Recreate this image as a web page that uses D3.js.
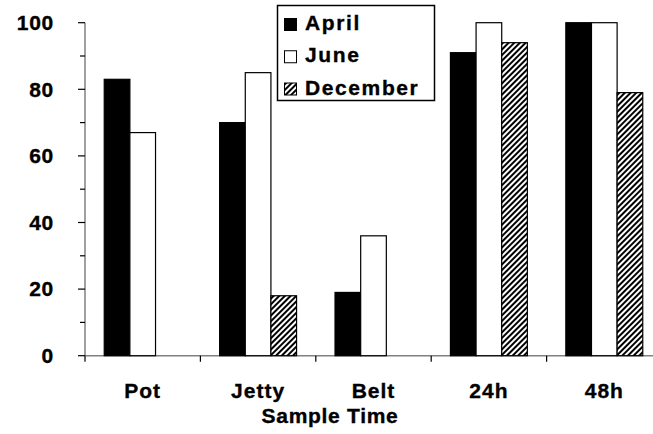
<!DOCTYPE html>
<html><head><meta charset="utf-8">
<script src="https://cdn.jsdelivr.net/npm/d3@7"></script>
<style>
html,body{margin:0;padding:0;background:#fff;}
svg text{font-family:"Liberation Sans",Arial,sans-serif;font-weight:bold;fill:#000;stroke:#000;stroke-width:0.35px;letter-spacing:1px;}
</style></head>
<body>
<svg id="chart" width="653" height="434"></svg>
<script>
const categories = ["Pot", "Jetty", "Belt", "24h", "48h"];
const seriesNames = ["April", "June", "December"];
const april = [83, 70, 19, 91, 100];
const june = [67, 85, 36, 100, 100];
const december = [null, 18, null, 94, 79];
const yTicks = [0, 20, 40, 60, 80, 100];
const yMinorTicks = [10, 30, 50, 70, 90];
const xTitle = "Sample Time";

const seriesValues = [april, june, december];
const svg = d3.select("#chart");

const defs = svg.append("defs");
const pat = defs.append("pattern").attr("id","hatch").attr("patternUnits","userSpaceOnUse")
  .attr("width",4).attr("height",4).attr("patternTransform","rotate(45)");
pat.append("rect").attr("width",4).attr("height",4).attr("fill","#fff");
pat.append("rect").attr("x",0).attr("y",0).attr("width",2).attr("height",4).attr("fill","#000");

const fills = {"April":"#000","June":"#fff","December":"url(#hatch)"};

const x0 = d3.scaleBand().domain(categories).range([85, 662]).paddingInner(0).paddingOuter(0);
const x1 = d3.scaleBand().domain(seriesNames).range([0, x0.bandwidth()]).paddingInner(0).paddingOuter(0.75);
const y = d3.scaleLinear().domain([0, 100]).range([355.7, 22.7]);

// axes lines
svg.append("line").attr("x1",85).attr("x2",85).attr("y1",y(100)).attr("y2",y(0)).attr("stroke","#808080").attr("stroke-width",1.5);
svg.append("line").attr("x1",85).attr("x2",662).attr("y1",y(0)).attr("y2",y(0)).attr("stroke","#808080").attr("stroke-width",1.5);

// y ticks
const yAxis = svg.append("g");
yAxis.selectAll("line.major").data(yTicks).join("line").attr("class","major")
  .attr("x1",78).attr("x2",85).attr("y1",d=>y(d)).attr("y2",d=>y(d)).attr("stroke","#000").attr("stroke-width",1.2);
yAxis.selectAll("line.minor").data(yMinorTicks).join("line").attr("class","minor")
  .attr("x1",80).attr("x2",85).attr("y1",d=>y(d)).attr("y2",d=>y(d)).attr("stroke","#000").attr("stroke-width",1.2);
yAxis.selectAll("text").data(yTicks).join("text")
  .attr("x",54).attr("y",d=>y(d)).attr("dy","0.35em").attr("text-anchor","end")
  .style("font-size","21px").style("letter-spacing","0.7px").text(d=>d);

// x ticks at category boundaries
const bounds = categories.map(c => x0(c));
svg.selectAll("line.xt").data(bounds).join("line").attr("class","xt")
  .attr("x1",d=>d).attr("x2",d=>d).attr("y1",y(0)).attr("y2",y(0)+6).attr("stroke","#000").attr("stroke-width",1.2);

// bars
const groups = svg.selectAll("g.cat").data(categories).join("g").attr("class","cat")
  .attr("transform", c => `translate(${x0(c)},0)`);
groups.selectAll("rect").data((c,i) => seriesNames.map((s,j)=>({s, v: seriesValues[j][i]})).filter(d=>d.v!==null))
  .join("rect")
  .attr("x", d => x1(d.s)).attr("width", x1.bandwidth())
  .attr("y", d => y(d.v)).attr("height", d => y(0)-y(d.v))
  .attr("fill", d => fills[d.s]).attr("stroke","#000").attr("stroke-width",1.2);

// x labels
svg.selectAll("text.xl").data(categories).join("text").attr("class","xl")
  .attr("x", c => x0(c)+x0.bandwidth()/2).attr("y",398).attr("text-anchor","middle")
  .style("font-size","21px").text(c=>c);
svg.append("text").attr("x",330).attr("y",423).attr("text-anchor","middle").style("font-size","21px").style("letter-spacing","0.7px").text(xTitle);

// legend
const lg = svg.append("g");
lg.append("rect").attr("x",277.5).attr("y",5.5).attr("width",157).attr("height",95).attr("fill","#fff").attr("stroke","#000").attr("stroke-width",1.5);
const ly = d3.scalePoint().domain(seriesNames).range([24.5, 89]);
lg.selectAll("rect.sw").data(seriesNames).join("rect").attr("class","sw")
  .attr("x",284.5).attr("y",d=>ly(d)-6).attr("width",12).attr("height",12)
  .attr("fill",d=>fills[d]).attr("stroke","#000").attr("stroke-width",1);
lg.selectAll("text").data(seriesNames).join("text")
  .attr("x",305).attr("y",d=>ly(d)+5.5).style("font-size","21px").style("letter-spacing","1.6px").text(d=>d);
</script>
</body></html>
